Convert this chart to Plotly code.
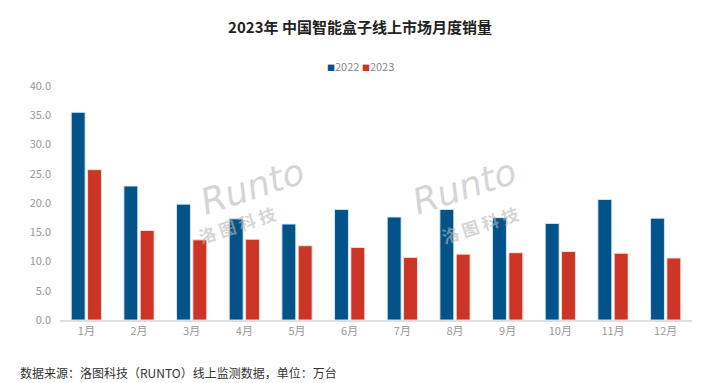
import plotly.graph_objects as go

months = ["1月", "2月", "3月", "4月", "5月", "6月", "7月", "8月", "9月", "10月", "11月", "12月"]
sales_2022 = [35.5, 22.9, 19.8, 17.3, 16.4, 18.9, 17.6, 18.9, 17.5, 16.5, 20.6, 17.4]
sales_2023 = [25.7, 15.3, 13.7, 13.8, 12.7, 12.4, 10.7, 11.25, 11.5, 11.7, 11.4, 10.6]
y_ticks = [0, 5, 10, 15, 20, 25, 30, 35, 40]
y_ticktext = ["0.0", "5.0", "10.0", "15.0", "20.0", "25.0", "30.0", "35.0", "40.0"]

FONT = "Noto Sans CJK SC"
C22 = "#02538A"
C23 = "#CC3525"

fig = go.Figure()
fig.add_trace(go.Bar(name="2022", x=months, y=sales_2022, showlegend=False,
                     marker=dict(color=C22, line=dict(color="rgba(220,235,245,0.9)", width=1))))
fig.add_trace(go.Bar(name="2023", x=months, y=sales_2023, showlegend=False,
                     marker=dict(color=C23, line=dict(color="rgba(250,225,220,0.9)", width=1))))

fig.update_layout(
    width=720, height=383,
    paper_bgcolor="white", plot_bgcolor="white",
    margin=dict(l=60, r=28, t=86, b=63),
    barmode="group", bargap=0.38, bargroupgap=0.15,
    font=dict(family=FONT, color="#999999", size=11),
    title=dict(text="<b>2023年 中国智能盒子线上市场月度销量</b>", x=0.5, xanchor="center",
               y=1 - 28 / 383, yanchor="middle",
               font=dict(family=FONT, size=15, color="#222222")),
    showlegend=False,
)
fig.update_xaxes(showgrid=False, showline=True, linecolor="#E0E0E0", linewidth=1.5,
                 ticks="", tickfont=dict(family=FONT, size=11, color="#999999"))
fig.update_yaxes(range=[0, 40], tickvals=y_ticks, ticktext=y_ticktext, showgrid=False,
                 zeroline=False, showline=False, ticks="", ticklabelstandoff=8,
                 tickfont=dict(family=FONT, size=11, color="#999999"))

# legend drawn as text
fig.add_annotation(xref="paper", yref="paper", x=(360 - 60) / 632, xanchor="center",
                   y=1 + 20 / 234, yanchor="middle", showarrow=False,
                   text=f"<span style='color:{C22}; font-size:8px'>■</span>2022 "
                        f"<span style='color:{C23}; font-size:8px'>■</span>2023",
                   font=dict(family=FONT, size=11, color="#888888"))

# watermarks
for xc in [0.21, 0.735]:
    fig.add_annotation(xref="paper", yref="paper", x=xc, y=0.57, text="<i>Runto</i>",
                       showarrow=False, textangle=-18,
                       font=dict(family="DejaVu Sans", size=36, color="rgba(185,185,185,0.6)"))
    fig.add_annotation(xref="paper", yref="paper", x=xc, y=0.41, text="<b>洛 图 科 技</b>",
                       showarrow=False, textangle=-18,
                       font=dict(family=FONT, size=17, color="rgba(185,185,185,0.6)"))

fig.add_annotation(xref="paper", yref="paper", x=-42 / 632, xanchor="left", y=-52 / 234, yanchor="middle",
                   text="数据来源：洛图科技（RUNTO）线上监测数据，单位：万台", showarrow=False,
                   font=dict(family=FONT, size=12, color="#333333"))

fig.write_html("out.html", config={"displayModeBar": False},
               post_script="document.body.style.margin='0';")
